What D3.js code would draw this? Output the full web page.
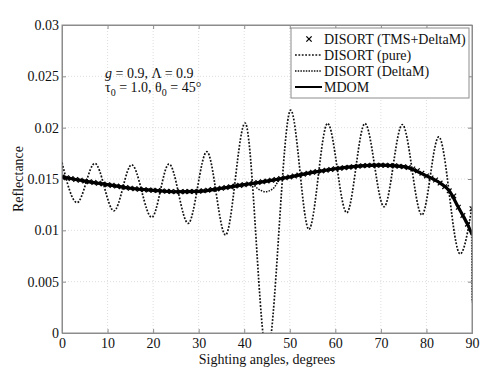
<!DOCTYPE html>
<html><head><meta charset="utf-8">
<script src="https://cdn.jsdelivr.net/npm/d3@7"></script>
<style>body{margin:0;background:#fff;} svg{display:block;} text{font-family:"Liberation Serif","Times New Roman",serif;}</style>
</head><body><svg id="c" width="491" height="377"></svg>
<script>
// ---------- data ----------
const xTicks = [0,10,20,30,40,50,60,70,80,90];
const yTicks = [0,0.005,0.01,0.015,0.02,0.025,0.03];
const yTickLabels = ["0","0.005","0.01","0.015","0.02","0.025","0.03"];
const legendLabels = ["DISORT (TMS+DeltaM)","DISORT (pure)","DISORT (DeltaM)","MDOM"];

// DISORT (pure): extrema of the oscillating curve
const pureAngles = [0,3.3,7.2,11.4,15.3,19.7,23.5,27.7,31.8,35.9,40.2,45.0,50.2,54.2,58.3,62.5,66.5,70.7,74.7,79.0,82.7,87.4,90];
const pureValues = [0.0166,0.0127,0.01652,0.0119,0.01638,0.01127,0.01646,0.01068,0.01766,0.00955,0.02045,-0.0021,0.0217,0.0101,0.02042,0.01172,0.0204,0.0123,0.0203,0.0115,0.0191,0.0077,0.0123];

// MDOM
const mdomAngles = [0,5,10,15,20,25,30,35,40,45,50,55,60,65,70,75,80,83,85,87,88,89,90];
const mdomValues = [0.0152,0.0148,0.01445,0.0141,0.0139,0.01376,0.0138,0.0141,0.01445,0.0148,0.0152,0.01565,0.016,0.01625,0.01635,0.0162,0.0153,0.0146,0.01385,0.01225,0.01145,0.0106,0.0096];

// DISORT (DeltaM)
const dmAngles = [0,10,20,30,40,41.6,43,44.6,46.3,47.9,50,60,70,75,80,85,87,88,89,89.9,90];
const dmValues = [0.0152,0.01445,0.0139,0.0138,0.01445,0.01452,0.01405,0.01376,0.01405,0.01496,0.0152,0.016,0.01635,0.0162,0.0153,0.01385,0.01225,0.01145,0.0106,0.0097,0.003];

// DISORT (TMS+DeltaM), one marker per degree
const tmsAngles = d3.range(0,91,1);
const tmsValues = [0.01520,0.01512,0.01504,0.01496,0.01488,0.01480,0.01473,0.01466,0.01459,0.01452,
0.01445,0.01438,0.01431,0.01424,0.01417,0.01410,0.01405,0.01400,0.01396,0.01393,
0.01390,0.01387,0.01384,0.01381,0.01378,0.01376,0.01376,0.01377,0.01378,0.01379,
0.01380,0.01385,0.01391,0.01397,0.01403,0.01410,0.01417,0.01424,0.01431,0.01438,
0.01445,0.01452,0.01459,0.01466,0.01473,0.01480,0.01488,0.01496,0.01504,0.01512,
0.01520,0.01529,0.01538,0.01547,0.01556,0.01565,0.01572,0.01579,0.01586,0.01593,
0.01600,0.01605,0.01610,0.01615,0.01620,0.01625,0.01628,0.01631,0.01634,0.01635,
0.01635,0.01634,0.01632,0.01629,0.01625,0.01620,0.01612,0.01598,0.01580,0.01557,
0.01530,0.01510,0.01490,0.01460,0.01425,0.01385,0.01335,0.01225,0.01145,0.01060,0.01210];

// ---------- layout ----------
const svg = d3.select("#c");
const L=62, R=472, T=25, B=333;
const x = d3.scaleLinear().domain([0,90]).range([L,R]);
const y = d3.scaleLinear().domain([0,0.03]).range([B,T]);
const frame = "#8c8c8c";
const FONT = '"Liberation Serif","Times New Roman",serif';

// grid
const g = svg.append("g");
g.selectAll("line.gx").data(xTicks.slice(1,-1)).join("line")
  .attr("x1",d=>x(d)).attr("x2",d=>x(d)).attr("y1",T).attr("y2",B)
  .attr("stroke","#d4d4d4").attr("stroke-width",0.8).attr("stroke-dasharray","1,2");
g.selectAll("line.gy").data(yTicks.slice(1,-1)).join("line")
  .attr("y1",d=>y(d)).attr("y2",d=>y(d)).attr("x1",L).attr("x2",R)
  .attr("stroke","#d4d4d4").attr("stroke-width",0.8).attr("stroke-dasharray","1,2");

// axes with D3
const ax = svg.append("g").attr("transform",`translate(0,${B})`)
  .call(d3.axisBottom(x).tickValues(xTicks).tickSize(-4).tickPadding(5).tickFormat(d3.format("d")));
const ay = svg.append("g").attr("transform",`translate(${L},0)`)
  .call(d3.axisLeft(y).tickValues(yTicks).tickSize(-4).tickPadding(3).tickFormat((d,i)=>yTickLabels[i]));
const axTop = svg.append("g").attr("transform",`translate(0,${T})`)
  .call(d3.axisTop(x).tickValues(xTicks).tickSize(-4).tickFormat(""));
const ayR = svg.append("g").attr("transform",`translate(${R},0)`)
  .call(d3.axisRight(y).tickValues(yTicks).tickSize(-4).tickFormat(""));
[ax,ay,axTop,ayR].forEach(a=>{
  a.attr("font-family",FONT);
  a.selectAll("path").attr("stroke",frame).attr("stroke-width",1);
  a.selectAll("line").attr("stroke",frame);
  a.selectAll("text").attr("font-size",14).attr("fill","#111").attr("font-family",FONT);
});

// clip
svg.append("clipPath").attr("id","clip").append("rect")
  .attr("x",L).attr("y",T).attr("width",R-L).attr("height",B-T);
const plot = svg.append("g").attr("clip-path","url(#clip)");

const line = (ax_,vs)=>d3.line().x((d,i)=>x(ax_[i])).y(d=>y(d)).curve(d3.curveMonotoneX)(vs);

// DISORT pure
plot.append("path").attr("d",line(pureAngles,pureValues))
  .attr("fill","none").attr("stroke","#111").attr("stroke-width",1.7).attr("stroke-dasharray","1.8,1.6");
// DISORT DeltaM
plot.append("path").attr("d",line(dmAngles,dmValues))
  .attr("fill","none").attr("stroke","#111").attr("stroke-width",1.5).attr("stroke-dasharray","1.5,1.2");
// MDOM
plot.append("path").attr("d",line(mdomAngles,mdomValues))
  .attr("fill","none").attr("stroke","#000").attr("stroke-width",3.2);
// TMS markers
const star = d3.symbol().type(d3.symbolX).size(16);
plot.selectAll("path.tms").data(tmsValues).join("path")
  .attr("transform",(d,i)=>`translate(${x(tmsAngles[i])},${y(d)})`)
  .attr("d",star).attr("fill","none").attr("stroke","#000").attr("stroke-width",1.2);

// frame on top
svg.append("rect").attr("x",L).attr("y",T).attr("width",R-L).attr("height",B-T)
  .attr("fill","none").attr("stroke",frame).attr("stroke-width",1);

// axis labels
svg.append("text").attr("x",(L+R)/2).attr("y",364).attr("text-anchor","middle").attr("font-family",FONT)
  .attr("font-size",14).attr("fill","#111").text("Sighting angles, degrees");
svg.append("text").attr("transform",`translate(23,${(T+B)/2}) rotate(-90)`).attr("text-anchor","middle").attr("font-family",FONT)
  .attr("font-size",14).attr("fill","#111").text("Reflectance");

// annotation
const a1 = svg.append("text").attr("x",105).attr("y",78).attr("font-size",14).attr("fill","#111").attr("font-family",FONT);
a1.append("tspan").attr("font-style","italic").text("g");
a1.append("tspan").text(" = 0.9, Λ = 0.9");
const a2 = svg.append("text").attr("x",105).attr("y",92).attr("font-size",14).attr("fill","#111").attr("font-family",FONT);
a2.append("tspan").text("τ");
a2.append("tspan").attr("font-size",10).attr("dy",4).text("0");
a2.append("tspan").attr("dy",-4).text(" = 1.0, θ");
a2.append("tspan").attr("font-size",10).attr("dy",4).text("0");
a2.append("tspan").attr("dy",-4).text(" = 45°");

// legend
const lg = svg.append("g");
lg.append("rect").attr("x",291).attr("y",28).attr("width",178).attr("height",70)
  .attr("fill","#fff").attr("stroke",frame).attr("stroke-width",1);
const rowY = [39,55,71,87];
legendLabels.forEach((lab,i)=>{
  const yy = rowY[i];
  lg.append("text").attr("x",324).attr("y",yy+4.5).attr("font-size",14).attr("fill","#111").attr("font-family",FONT).text(lab);
});
lg.append("path").attr("transform",`translate(309,${rowY[0]})`).attr("d",d3.symbol().type(d3.symbolX).size(20))
  .attr("fill","none").attr("stroke","#000").attr("stroke-width",1.3);
lg.append("line").attr("x1",295).attr("x2",322).attr("y1",rowY[1]).attr("y2",rowY[1])
  .attr("stroke","#111").attr("stroke-width",1.5).attr("stroke-dasharray","1.8,1.6");
lg.append("line").attr("x1",295).attr("x2",322).attr("y1",rowY[2]).attr("y2",rowY[2])
  .attr("stroke","#111").attr("stroke-width",1.5).attr("stroke-dasharray","1.5,1.2");
lg.append("line").attr("x1",295).attr("x2",322).attr("y1",rowY[3]).attr("y2",rowY[3])
  .attr("stroke","#000").attr("stroke-width",2);
</script></body></html>
